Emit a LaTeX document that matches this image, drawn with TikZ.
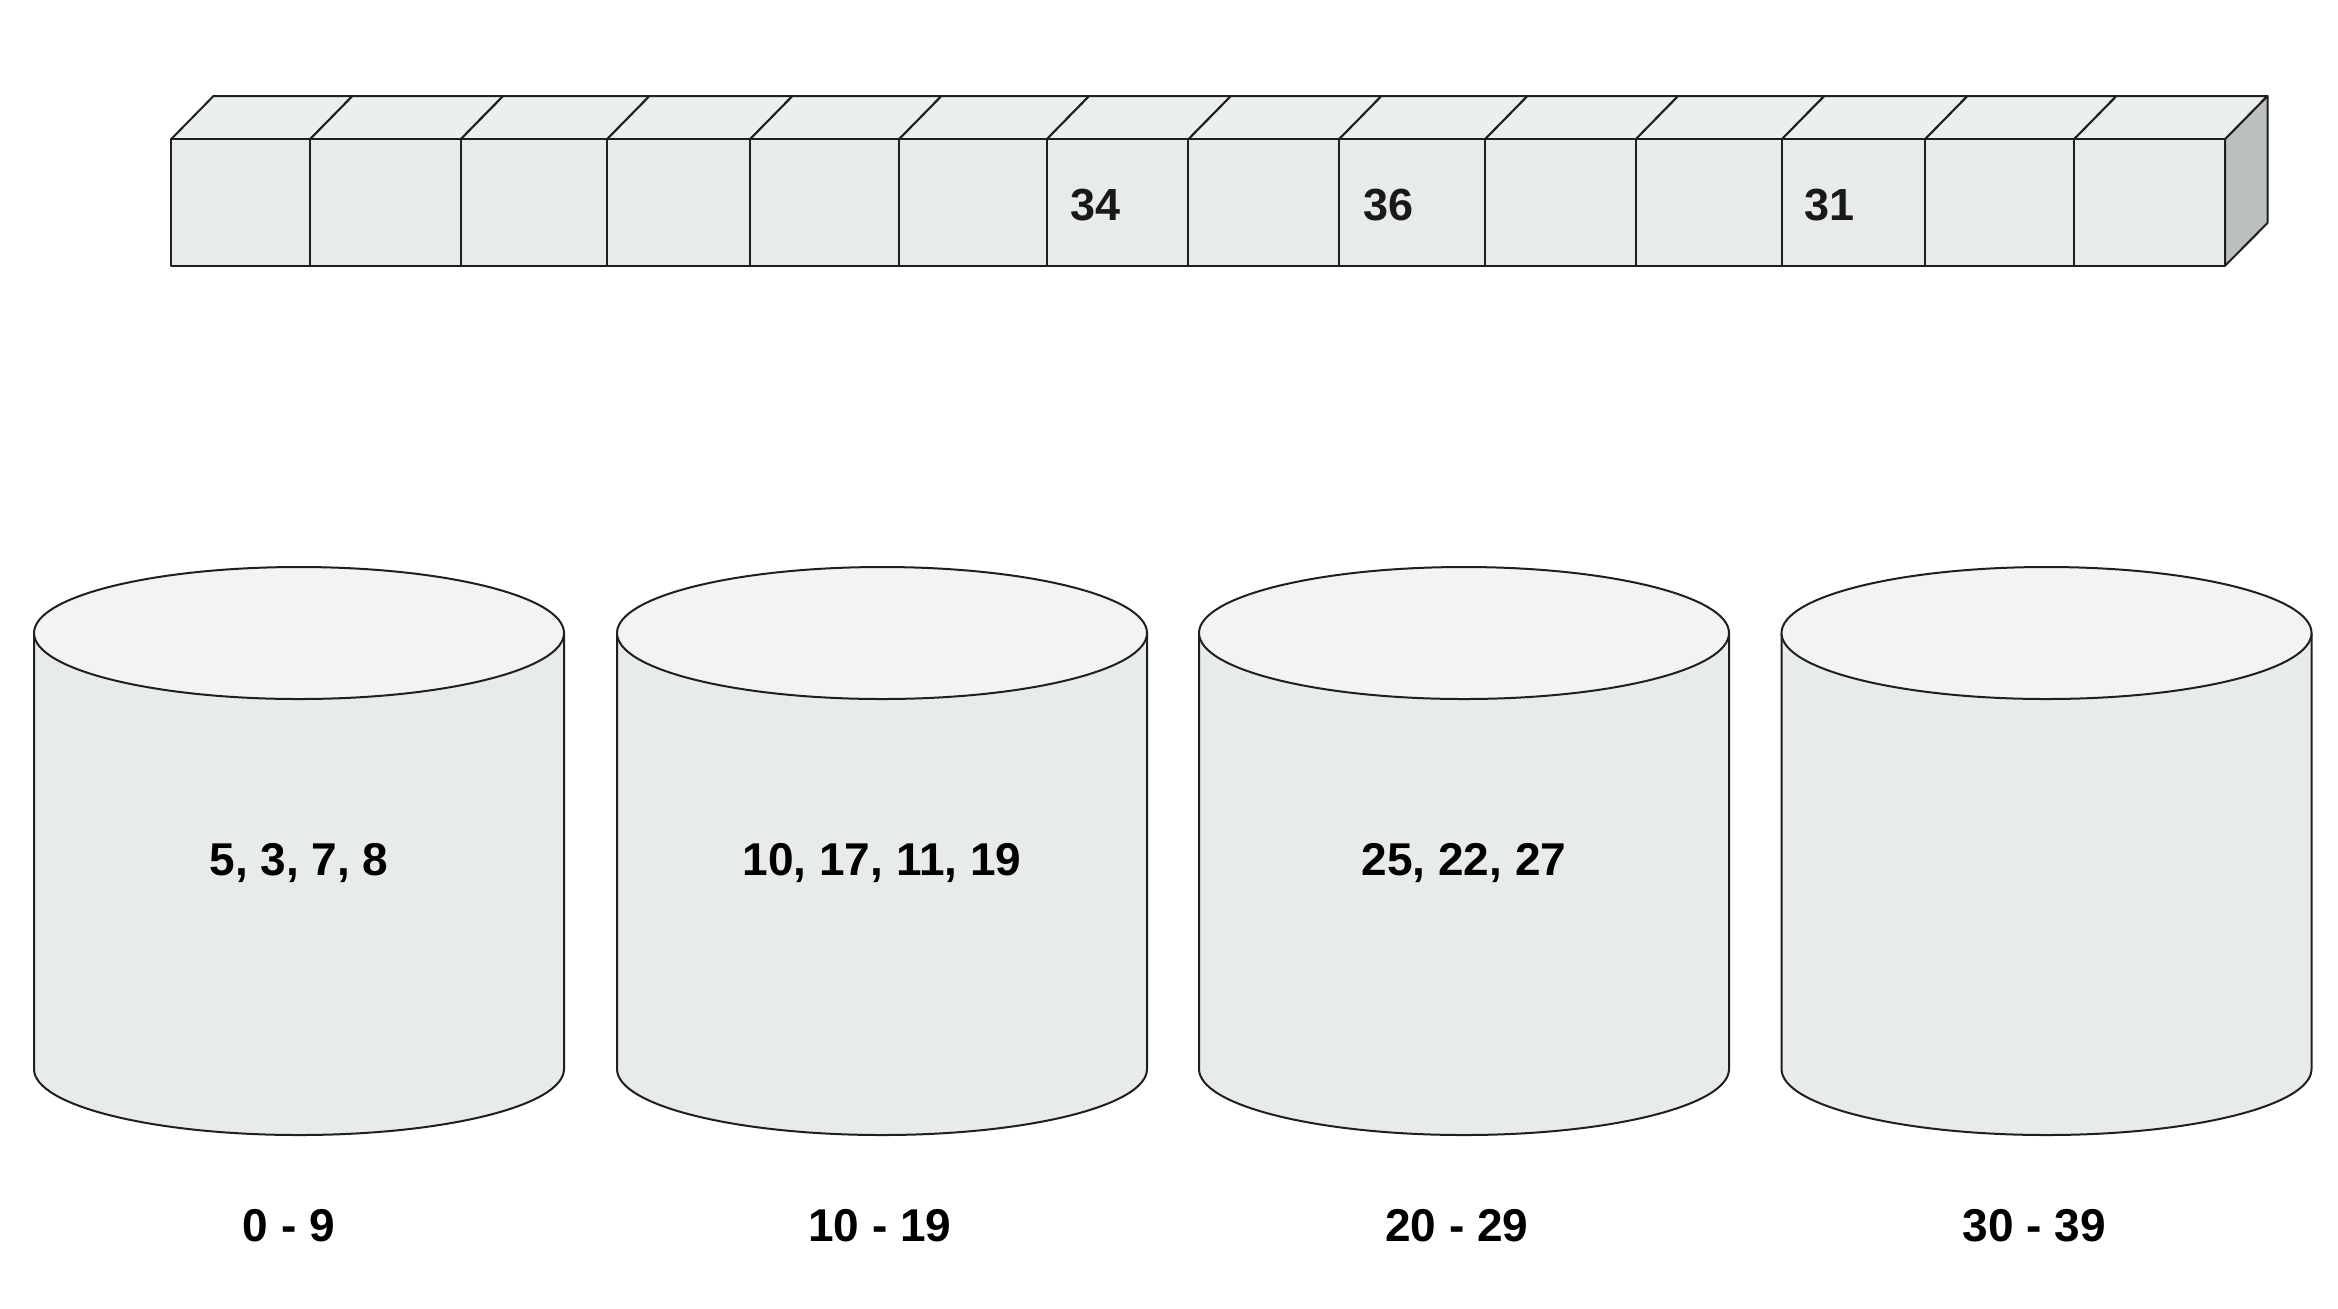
\documentclass[tikz,border=0pt]{standalone}
\usepackage{fontspec}
\setmainfont{Liberation Sans}
\definecolor{linec}{HTML}{1F1F1F}
\definecolor{frontc}{HTML}{E8EBEC}
\definecolor{topc}{HTML}{ECEFF0}
\definecolor{sidec}{HTML}{BCBFC0}
\definecolor{cyltop}{HTML}{F2F3F4}
\definecolor{cylbody}{HTML}{E8EBEC}
\begin{document}
\begin{tikzpicture}[x=0.5pt,y=-0.5pt,line width=1pt,line join=round,
  face/.style={draw=linec,fill=frontc},
  topface/.style={draw=linec,fill=topc},
  sideface/.style={draw=linec,fill=sidec},
  cylb/.style={draw=linec,fill=cylbody},
  cylt/.style={draw=linec,fill=cyltop},
  lbl/.style={font=\fontsize{22.5}{27}\selectfont\bfseries,inner sep=0pt,text=black!90},
  cyllbl/.style={font=\fontsize{23}{27}\selectfont\bfseries,inner sep=0pt,text=black}]
\useasboundingbox (0,0) rectangle (2338,1308);
% top bar of cells
\foreach \a/\b in {171/310,310/460.7,460.7/607,607/750,750/899,899/1046.7,1046.7/1188.4,1188.4/1339,1339/1485,1485/1635.7,1635.7/1781.8,1781.8/1925,1925/2074,2074/2225}{
  \path[topface] (\a,139.3) -- (\a+42.5,96) -- (\b+42.5,96) -- (\b,139.3) -- cycle;
  \path[face] (\a,139.3) rectangle (\b,265.7);
}
\path[sideface] (2225,139.3) -- (2267.5,96) -- (2267.5,223) -- (2225,265.7) -- cycle;
\node[lbl,anchor=west] (c34) at (1046.7+23,205) {34};
\node[lbl,anchor=west] (c36) at (1339+23,205) {36};
\node[lbl,anchor=west] (c31) at (1781.8+22,205) {31};
% cylinders
\foreach \c in {299,882,1464,2046.5}{
  \path[cylb] (\c-265,633) -- (\c-265,1069) arc[start angle=180,end angle=360,x radius=132.5pt,y radius=33pt] -- (\c+265,633);
  \path[cylt] (\c,633) ellipse[x radius=132.5pt,y radius=33pt];
}
\node[cyllbl] (d1) at (299,863) {5, 3, 7, 8};
\node[cyllbl] (d2) at (882,863) {10, 17, 11, 19};
\node[cyllbl] (d3) at (1464,863) {25, 22, 27};
\node[cyllbl] (r1) at (289,1226) {0 - 9};
\node[cyllbl] (r2) at (880,1226) {10 - 19};
\node[cyllbl] (r3) at (1457,1226) {20 - 29};
\node[cyllbl] (r4) at (2034,1226) {30 - 39};
\end{tikzpicture}
\end{document}
